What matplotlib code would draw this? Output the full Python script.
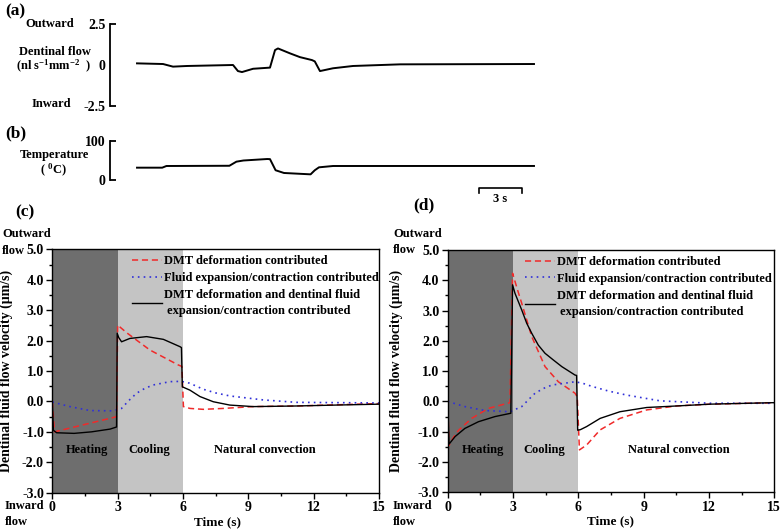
import matplotlib
matplotlib.use('Agg')
import matplotlib.pyplot as plt
from matplotlib.ticker import MultipleLocator, FormatStrFormatter

plt.rcParams['font.family'] = 'Liberation Serif'
plt.rcParams['font.weight'] = 'bold'
plt.rcParams['axes.labelweight'] = 'bold'
plt.rcParams['mathtext.fontset'] = 'custom'
plt.rcParams['mathtext.rm'] = 'Liberation Serif:bold'
plt.rcParams['mathtext.bf'] = 'Liberation Serif:bold'
plt.rcParams['mathtext.it'] = 'Liberation Serif:bold'

# (a) measured dentinal flow trace
t_flow = [0, 1.86, 2.57, 3.57, 6.86, 7.21, 7.5, 8.29, 9.5, 9.86, 10.07, 10.93,
          11.64, 12.5, 12.7, 13.07, 14.0, 15.43, 18.8, 28.36]
flow = [0.10, 0.06, -0.10, -0.06, 0.0, -0.37, -0.43, -0.23, -0.16, 0.91, 1.01, 0.71,
        0.48, 0.30, 0.22, -0.37, -0.20, -0.06, 0.04, 0.06]

# (b) temperature trace
t_temp = [0, 1.8, 2.1, 6.6, 7.1, 7.6, 9.3, 9.5, 9.9, 10.5, 12.4, 12.7, 13.0, 14.0, 28.36]
temp = [31.6, 31.6, 35.9, 36.5, 47, 50, 53.8, 53.5, 25, 18, 14.5, 25, 32.5, 35.9, 36]

# (c) simulated flow velocity
tc_dmt = [0, 0.1, 2.85, 2.95, 3.0, 3.41, 4.48, 5.78, 5.95, 6.02, 6.32, 6.93, 7.85, 9.22, 11.2, 15.0]
vc_dmt = [0, -1.0, -0.52, -0.5, 2.51, 2.26, 1.69, 1.20, 1.15, -0.17, -0.23, -0.26, -0.23, -0.17, -0.15, -0.07]
tc_fluid = [0, 0.81, 1.73, 2.8, 3.18, 3.5, 3.87, 4.25, 4.63, 5.4, 5.93, 6.3, 6.62, 6.93, 7.5, 8.15,
            9.68, 11.2, 15.0]
vc_fluid = [-0.02, -0.17, -0.30, -0.31, -0.23, 0.02, 0.27, 0.43, 0.54, 0.65, 0.66, 0.6, 0.5, 0.40,
            0.28, 0.18, 0.05, -0.03, -0.05]
tc_both = [0, 0.05, 0.2, 1.0, 1.8, 2.65, 2.95, 2.98, 3.05, 3.18, 3.56, 4.33, 5.1, 5.86, 5.93,
           5.97, 6.32, 6.78, 7.39, 8.15, 9.22, 11.2, 13.0, 15.0]
vc_both = [0, -0.95, -1.03, -1.05, -1.0, -0.91, -0.84, 2.24, 2.1, 1.96, 2.07, 2.13, 2.04, 1.80, 1.77,
           0.48, 0.37, 0.16, -0.01, -0.12, -0.17, -0.15, -0.12, -0.09]

# (d) simulated flow velocity
td_dmt = [0, 0.06, 0.25, 0.49, 1.1, 1.87, 2.86, 2.98, 3.2, 3.4, 3.86, 4.47, 5.08, 5.85, 5.95, 6.05,
          6.38, 6.7, 7.0, 7.91, 9.14, 10.5, 12.05, 15.0]
vd_dmt = [0, -1.45, -1.2, -0.96, -0.56, -0.23, -0.04, 4.23, 3.7, 3.24, 2.14, 1.15, 0.65, 0.27, 0.15, -1.60,
          -1.44, -1.18, -0.94, -0.56, -0.28, -0.15, -0.09, -0.04]
td_fluid = [0, 0.79, 1.71, 2.86, 3.4, 3.7, 4.01, 4.4, 4.78, 5.85, 6.2, 6.61, 7.4, 8.22, 9.75, 12.05, 15.0]
vd_fluid = [0, -0.17, -0.30, -0.34, -0.17, 0.05, 0.27, 0.43, 0.54, 0.65, 0.6, 0.50, 0.34, 0.21, 0.02,
            -0.06, -0.06]
td_both = [0, 0.06, 0.34, 0.79, 1.41, 2.17, 2.9, 2.98, 3.09, 3.4, 3.63, 3.86, 4.16, 4.47, 4.85,
           5.24, 5.85, 5.92, 5.97, 6.1, 6.38, 7.0, 7.91, 9.14, 10.5, 12.05, 15.0]
vd_both = [0, -1.41, -1.16, -0.89, -0.67, -0.50, -0.39, 3.85, 3.57, 3.02, 2.58, 2.25, 1.86, 1.59, 1.37,
           1.15, 0.87, 0.86, -0.95, -0.93, -0.83, -0.56, -0.34, -0.20, -0.15, -0.09, -0.04]

labels = ['DMT deformation contributed',
          'Fluid expansion/contraction contributed',
          'DMT deformation and dentinal fluid\n expansion/contraction contributed']
phases = ['Heating', 'Cooling', 'Natural convection']

W, H = 782, 530
fig = plt.figure(figsize=(W / 100, H / 100), dpi=100)


def px_axes(left, top, right, bottom):
    return fig.add_axes([left / W, 1 - bottom / H, (right - left) / W, (bottom - top) / H])


def ftext(x, y, s, **kw):
    kw.setdefault('ha', 'center')
    kw.setdefault('va', 'center')
    kw.setdefault('fontsize', 9)
    fig.text(x / W, 1 - y / H, s, **kw)


# ---- (a) and (b) recorded traces ----
ax_a = px_axes(110, 24, 540, 106)
ax_a.plot(t_flow, flow, color='k', lw=1.4)
ax_a.set_xlim(-1.93, 28.79)
ax_a.set_ylim(-2.5, 2.5)
ax_a.set_yticks([-2.5, 0, 2.5], ['-2.5', '0', '2.5'])
ax_a.yaxis.get_major_ticks()[1].tick1line.set_visible(False)

ax_b = px_axes(110, 141, 540, 180)
ax_b.plot(t_temp, temp, color='k', lw=1.4)
ax_b.set_xlim(-1.93, 28.79)
ax_b.set_ylim(0, 100)
ax_b.set_yticks([0, 100], ['0', '100'])

for ax in (ax_a, ax_b):
    for s in ('top', 'right', 'bottom'):
        ax.spines[s].set_visible(False)
    ax.spines['left'].set_linewidth(1.3)
    ax.set_xticks([])
    ax.tick_params(axis='y', direction='in', length=4, width=1.3, pad=3, labelsize=10)
    ax.patch.set_visible(False)

# 3 s scale bar
ax_b.plot([24.43, 24.43, 27.5, 27.5], [-33, -21.3, -21.3, -33], color='k', lw=1.2, clip_on=False)
ax_b.text(25.96, -49, '3 s', ha='center', va='center', fontsize=9)

ftext(5, 11, '(a)', ha='left', fontsize=12.5)
ftext(50, 24, 'Outward')
ftext(55, 52, 'Dentinal flow')
ftext(53, 66, '(nl s$^{-1}$mm$^{-2}$  )')
ftext(51, 104, 'Inward')
ftext(5, 133, '(b)', ha='left', fontsize=12.5)
ftext(54, 155, 'Temperature')
ftext(53, 170, '( $^{0}$C)')


# ---- (c) and (d) simulations ----
def sim_panel(ax, t1, v1, t2, v2, t3, v3, phase_x, leg_anchor):
    ax.axvspan(0, 3, color='#6e6e6e', lw=0)
    ax.axvspan(3, 6, color='#c4c4c4', lw=0)
    ax.plot(t1, v1, color='#f02a2a', ls=(0, (4, 2.5)), lw=1.1, label=labels[0])
    ax.plot(t2, v2, color='#3030d8', ls=(0, (1, 2.5)), lw=1.2, label=labels[1])
    ax.plot(t3, v3, color='k', lw=1.0, label=labels[2])
    ax.set_xlim(0, 15)
    ax.set_ylim(-3, 5)
    ax.xaxis.set_major_locator(MultipleLocator(3))
    ax.xaxis.set_minor_locator(MultipleLocator(1.5))
    ax.yaxis.set_major_locator(MultipleLocator(1))
    ax.yaxis.set_minor_locator(MultipleLocator(0.5))
    ax.yaxis.set_major_formatter(FormatStrFormatter('%.1f'))
    ax.tick_params(which='both', direction='out', labelsize=10, width=1)
    ax.tick_params(which='major', length=4, pad=2)
    ax.tick_params(which='minor', length=2.5)
    for s in ax.spines.values():
        s.set_linewidth(1)
    ax.set_ylabel('Dentinal fluid flow velocity (μm/s)', fontsize=10)
    ax.set_xlabel('Time (s)', fontsize=9.5)
    for x, s in zip(phase_x, phases):
        ax.text(x, -1.6, s, ha='center', va='center', fontsize=9)
    leg = ax.legend(loc='upper left', bbox_to_anchor=leg_anchor, frameon=False, fontsize=9,
                    handlelength=2.4, handletextpad=0.15, borderpad=0, borderaxespad=0,
                    labelspacing=0.38)
    leg.get_texts()[2].set_linespacing(1.45)


ax_c = px_axes(52.3, 249.3, 379, 492.7)
sim_panel(ax_c, tc_dmt, vc_dmt, tc_fluid, vc_fluid, tc_both, vc_both,
          [1.6, 4.45, 9.75], (0.245, 0.975))
ax_c.yaxis.set_label_coords(-0.121, 0.5)
ax_c.xaxis.set_label_coords(0.507, -0.095)

ax_d = px_axes(447.7, 250, 774.3, 492.3)
sim_panel(ax_d, td_dmt, vd_dmt, td_fluid, vd_fluid, td_both, vd_both,
          [1.62, 4.44, 10.6], (0.237, 0.975))
ax_d.yaxis.set_label_coords(-0.137, 0.5)
ax_d.xaxis.set_label_coords(0.497, -0.095)

ftext(15, 212, '(c)', ha='left', fontsize=12.5)
ftext(2, 234, 'Outward', ha='left')
ftext(2, 251, 'flow', ha='left')
ftext(5, 506, 'Inward', ha='left')
ftext(5, 522, 'flow', ha='left')

ftext(413, 205, '(d)', ha='left', fontsize=12.5)
ftext(393, 234, 'Outward', ha='left')
ftext(393, 250, 'flow', ha='left')
ftext(393, 506, 'Inward', ha='left')
ftext(393, 522, 'flow', ha='left')

fig.savefig('out.png', dpi=100)
